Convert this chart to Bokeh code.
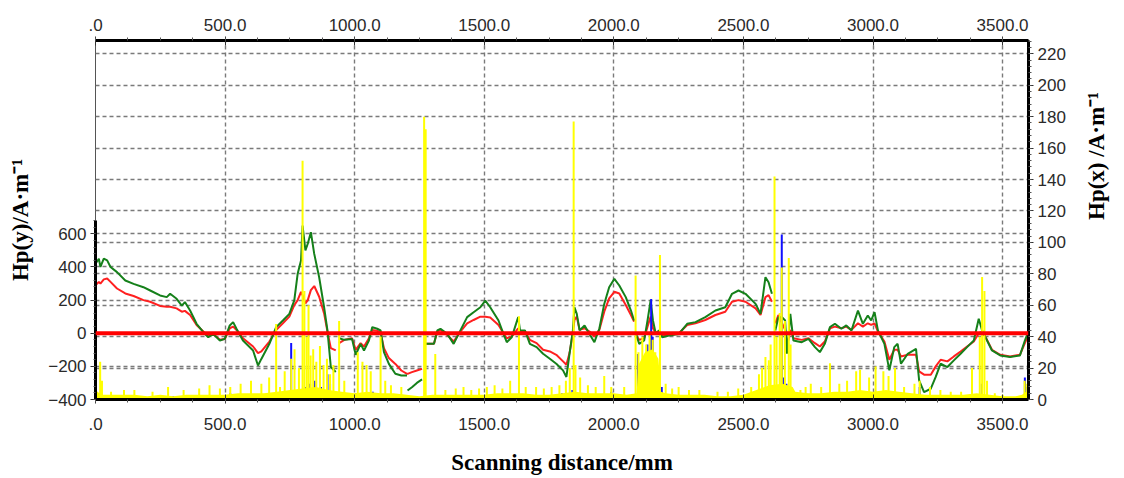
import math
from bokeh.plotting import figure
from bokeh.models import Range1d, LinearAxis, SingleIntervalTicker, Grid, Span
from bokeh.embed import file_html
from bokeh.resources import INLINE

nan = float("nan")

# ---- axis ticks -------------------------------------------------------------
dist_ticks = [0, 500, 1000, 1500, 2000, 2500, 3000, 3500]
dist_labels = [".0", "500.0", "1000.0", "1500.0", "2000.0", "2500.0", "3000.0", "3500.0"]

# ---- Hp(y) traces (left axis, A/m); nan marks a break between scan segments ----
dist_mm = [0, 13, 19, 32, 45, 58, 83, 115, 147, 185, 211, 249, 275, 288, 313, 333, 345, 365,
           390, 416, 435, 454, 480, 499, 518, 531, 544, 569, 608, 627, 640, 671, 697, 723,
           748, 767, 780, 793, 799, 810, 819, 831, 844, 863, 882, 895, 908, 927, 932,
           940, 960, 990, 1004, 1023, 1036, 1055, 1068, 1087, 1100, 1113, 1132, 1157, 1180,
           1202, 1203, 1204, 1221, 1240, 1260, 1266,
           1273, 1306, 1319, 1331, 1357, 1382, 1408, 1434, 1459, 1485, 1504, 1523, 1555,
           1574, 1587, 1606, 1631, 1638, 1657, 1676, 1702, 1727, 1753, 1778, 1804, 1817,
           1829, 1842, 1848, 1857, 1868, 1887, 1906, 1925, 1944, 1963, 1982, 2002, 2021,
           2046, 2066, 2078, 2081,
           2085, 2098, 2117, 2130, 2142, 2151, 2162, 2174, 2187, 2213, 2251, 2283, 2315,
           2353, 2392, 2430, 2456, 2481, 2508, 2547, 2566, 2585, 2597, 2610, 2616,
           2623, 2635, 2649, 2661, 2668, 2681, 2693, 2725, 2751, 2776, 2795, 2814, 2834,
           2853, 2878, 2897, 2917, 2942, 2961, 2980, 2993, 3006, 3019, 3044, 3063, 3082,
           3095, 3108, 3134, 3166, 3178, 3197, 3223, 3242, 3261, 3287, 3312, 3338, 3363,
           3389, 3408, 3421, 3440, 3459, 3491, 3529, 3567, 3586, 3597]

hpy_green = [419, 450, 400, 450, 440, 400, 369, 318, 298, 278, 258, 228, 218, 238, 208, 167, 188, 137,
             57, 6, -24, -4, -44, -34, 47, 67, 27, -44, -104, -195, -155, -64, 37, 77,
             117, 198, 359, 439, 650, 500, 540, 610, 479, 338, 157, 17, -204, -234, nan,
             -30, -40, -35, -130, -64, -104, -44, 37, 27, 17, -114, -185, -245, -255,
             -255, nan, -346, -326, -300, -279, nan,
             -64, -64, 17, 27, -4, -64, 17, 97, 127, 157, 197, 157, 77,
             -4, -54, -24, 97, 17, 17, -64, -84, -124, -154, -184, -224, -264,
             -124, 17, 157, 117, 17, 47, -4, -54, 27, 177, 278, 328, 288,
             218, 137, 77, nan,
             -4, -64, -44, 77, 198, 77, -4, 17, -24, -14, -4, 57, 67,
             97, 137, 157, 238, 258, 238, 177, 117, 338, 308, 238, nan,
             17, 97, 97, 77, -124, 117, -44, -54, -34, -84, -114, -64, 37,
             57, 27, 47, 17, 137, 57, 107, 77, 127, 17, -64, -224, -84,
             -64, -184, -124, -94, -285, -355, -335, -264, -184, -204, -164, -124, -84,
             -44, 87, 17, -44, -104, -134, -144, -134, -44, 0]

hpy_red = [290, 310, 300, 325, 330, 310, 270, 240, 225, 200, 190, 165, 160, 160, 150, 130, 135, 110,
           50, 10, -15, -5, -40, -35, 30, 40, 20, -30, -80, -120, -110, -50, 20, 60,
           100, 170, 200, 250, 230, 180, 200, 260, 285, 220, 120, 10, -90, -104, nan,
           -60, -40, -30, -100, -60, -80, -30, 20, 15, 5, -90, -150, -185, -225,
           -245, -245, -245, -235, -225, -215, nan,
           -64, -64, 10, 20, -10, -50, 10, 60, 80, 100, 100, 95, 50,
           0, -30, -20, 30, 10, 10, -40, -60, -100, -110, -130, -170, -190,
           -120, 0, 80, 100, 20, 30, 10, -20, 20, 130, 210, 250, 240,
           170, 110, 70, nan,
           -10, -40, -30, 40, 100, 30, 0, 10, -10, -10, 0, 50, 60,
           80, 110, 130, 190, 200, 190, 150, 110, 218, 230, 190, nan,
           60, 110, 60, 20, -80, 20, -30, -40, -30, -60, -80, -50, 30,
           40, 30, 40, 20, 60, 40, 60, 50, 60, 10, -50, -160, -100,
           -100, -140, -130, -130, -230, -250, -250, -200, -160, -170, -140, -110, -80,
           -50, 0, 10, -40, -100, -130, -140, -130, -60, -20]

# ---- Hp(x) yellow trace (right axis, A/m): low-level band and spikes -------
band_mm = [0, 15, 30, 50, 100, 150, 200, 250, 300, 350, 400, 450, 500, 550, 600, 650, 700,
           750, 800, 850, 900, 950, 1000, 1050, 1100, 1150, 1200, 1250, 1300, 1350, 1400,
           1450, 1500, 1550, 1600, 1650, 1700, 1750, 1800, 1850, 1900, 1950, 2000, 2050,
           2088, 2095, 2120, 2150, 2172, 2182, 2200, 2250, 2300, 2350, 2400, 2450, 2500,
           2550, 2600, 2650, 2690, 2700, 2750, 2800, 2850, 2900, 2950, 3000, 3050, 3100,
           3150, 3200, 3250, 3300, 3350, 3400, 3450, 3500, 3550, 3575, 3600]
band_hpx = [6, 4, 3, 3, 3, 3, 2, 3, 2, 3, 3, 3, 3, 4, 4, 4, 5,
            6, 7, 8, 6, 5, 4, 5, 4, 4, 3, 2, 3, 3, 3,
            3, 3, 4, 4, 4, 3, 3, 4, 5, 4, 4, 4, 3,
            4, 22, 30, 32, 26, 5, 4, 3, 3, 3, 2, 2, 3,
            6, 9, 10, 8, 5, 4, 4, 5, 5, 6, 5, 6, 5,
            4, 3, 3, 3, 3, 4, 3, 2, 2, 3, 6]

spike_mm = [18, 25, 60, 110, 150, 220, 280, 340, 400, 440, 480, 520, 560, 600, 640, 670, 697,
            712, 730, 755, 768, 785, 799, 806, 815, 822, 830, 840, 852, 866, 880, 893, 905,
            918, 940, 960, 1012, 1030, 1046, 1062, 1100, 1118, 1140, 1180, 1268, 1274, 1311,
            1350, 1390, 1420, 1450, 1480, 1510, 1540, 1570, 1600, 1634, 1660, 1700, 1730, 1760,
            1790, 1815, 1830, 1845, 1852, 1870, 1900, 1930, 1963, 1990, 2040, 2084, 2095,
            2110, 2125, 2138, 2150, 2160, 2178, 2200, 2225, 2250, 2290, 2330, 2400, 2440,
            2480, 2530, 2560, 2572, 2585, 2598, 2605, 2620, 2628, 2640, 2648, 2660, 2675,
            2682, 2720, 2740, 2760, 2800, 2834, 2870, 2900, 2935, 2950, 2985, 3010, 3040,
            3060, 3085, 3120, 3160, 3180, 3220, 3260, 3300, 3340, 3382, 3412, 3421, 3430,
            3440, 3470, 3500, 3585, 3595]
spike_hpx = [24, 12, 5, 6, 6, 5, 8, 6, 7, 9, 7, 8, 10, 12, 10, 14, 48,
             8, 18, 26, 32, 20, 152, 69, 40, 60, 28, 32, 24, 34, 22, 26, 16,
             22, 50, 12, 30, 24, 22, 18, 40, 12, 9, 8, 180, 172, 29,
             6, 7, 8, 6, 7, 8, 9, 7, 12, 53, 8, 8, 7, 8,
             9, 12, 20, 177, 22, 14, 9, 8, 15, 8, 8, 79, 30,
             40, 35, 42, 38, 30, 92, 10, 7, 8, 6, 6, 5, 5,
             7, 8, 16, 20, 27, 25, 35, 142, 40, 55, 84, 50, 90,
             35, 6, 8, 10, 8, 23, 10, 12, 18, 19, 14, 21, 18,
             15, 20, 8, 10, 12, 8, 6, 5, 5, 20, 40, 78, 69,
             12, 4, 3, 12, 10]

# ---- Hp(x) blue trace (right axis, A/m) -------------------------------------
blue_mm = [20, 120, 300, 520, 700, 755, 812, 828, 845, 870, 895, 905, 1005, 1070, 1620, 1800,
           1840, 1990, 2020, 2093, 2100, 2130, 2144, 2150, 2170, 2185, 2648, 2656, 2666,
           2830, 2940, 3010, 3060, 3180, 3420, 3586, 3596]
blue_hpx = [3, 2, 2, 4, 3, 36, 8, 10, 12, 8, 16, 10, 4, 5, 3, 4,
            6, 5, 3, 29, 20, 35, 64, 40, 12, 8, 105, 14, 10,
            3, 4, 5, 5, 8, 10, 14, 8]

p = figure(width=1124, height=478, output_backend="svg", toolbar_location=None,
           x_range=Range1d(0, 3600), y_range=Range1d(-400, 1767),
           x_axis_location=None, y_axis_location=None,
           min_border_left=95, min_border_right=89, min_border_top=40, min_border_bottom=79,
           background_fill_color="white", border_fill_color="white",
           outline_line_color="#555555", outline_line_width=1)
p.extra_y_ranges = {"hpx": Range1d(0, 228.5)}
p.xgrid.visible = False
p.ygrid.visible = False

tick_font = "Liberation Sans"
label_font = "Liberation Serif"


def style_axis(ax, tick_in, tick_out, minor_in, minor_out):
    ax.axis_line_color = "black"
    ax.axis_line_width = 3
    ax.major_tick_line_color = "#333333"
    ax.major_tick_line_width = 1
    ax.minor_tick_line_color = "#555555"
    ax.major_tick_in = tick_in
    ax.major_tick_out = tick_out
    ax.minor_tick_in = minor_in
    ax.minor_tick_out = minor_out
    ax.major_label_text_font = tick_font
    ax.major_label_text_font_size = "17px"
    ax.major_label_text_color = "#2a2a2a"
    ax.axis_label_text_font = label_font
    ax.axis_label_text_font_size = "23px"
    ax.axis_label_text_font_style = "bold"
    ax.axis_label_text_color = "black"


overrides = {t: s for t, s in zip(dist_ticks, dist_labels)}

x_bottom = LinearAxis(ticker=SingleIntervalTicker(interval=500, num_minor_ticks=4),
                      axis_label="Scanning distance/mm")
style_axis(x_bottom, 5, 4, 0, 3)
x_bottom.major_label_overrides = overrides
x_bottom.major_label_standoff = 14
x_bottom.axis_label_standoff = 17
p.add_layout(x_bottom, "below")

x_top = LinearAxis(ticker=SingleIntervalTicker(interval=500, num_minor_ticks=4))
style_axis(x_top, 5, 4, 0, 3)
x_top.major_label_overrides = overrides
x_top.major_label_standoff = 6
p.add_layout(x_top, "above")

y_left = LinearAxis(ticker=SingleIntervalTicker(interval=200, num_minor_ticks=5),
                    bounds=(-400, 680), axis_label="Hp(y)/A·m⁻¹")
style_axis(y_left, 0, 5, 0, 2)
y_left.major_label_standoff = 4
y_left.axis_label_standoff = 12
p.add_layout(y_left, "left")

y_right = LinearAxis(y_range_name="hpx",
                     ticker=SingleIntervalTicker(interval=20, num_minor_ticks=5),
                     axis_label="Hp(x) /A·m⁻¹")
style_axis(y_right, 0, 5, 0, 3)
y_right.major_label_standoff = 4
y_right.axis_label_standoff = 28
y_right.axis_label_orientation = math.pi / 2
p.add_layout(y_right, "right")

# dashed grid: vertical at distance ticks, horizontal at both y scales
grid_style = dict(grid_line_color="#7a7a7a", grid_line_width=1.4, grid_line_dash="4 3")
p.add_layout(Grid(dimension=0, ticker=x_bottom.ticker, **grid_style))
p.add_layout(Grid(dimension=1, ticker=SingleIntervalTicker(interval=200), **grid_style))
p.add_layout(Grid(dimension=1, ticker=SingleIntervalTicker(interval=20),
                  y_range_name="hpx", **grid_style))

# Hp(y) traces
p.line(dist_mm, hpy_red, line_color="#ff2020", line_width=2)
p.line(dist_mm, hpy_green, line_color="#15801a", line_width=2)

# Hp(x) traces
p.segment(x0=blue_mm, y0=[0] * len(blue_mm), x1=blue_mm, y1=blue_hpx,
          y_range_name="hpx", line_color="#1010ff", line_width=2)
p.varea(x=band_mm, y1=[0] * len(band_mm), y2=band_hpx, y_range_name="hpx",
        fill_color="#ffff00")
p.segment(x0=spike_mm, y0=[0] * len(spike_mm), x1=spike_mm, y1=spike_hpx,
          y_range_name="hpx", line_color="#ffff00", line_width=2)

# reference line at Hp(y) = 0
p.add_layout(Span(location=0, dimension="width", line_color="#ff0000", line_width=4))

open("out.html", "w").write(file_html(p, INLINE))
